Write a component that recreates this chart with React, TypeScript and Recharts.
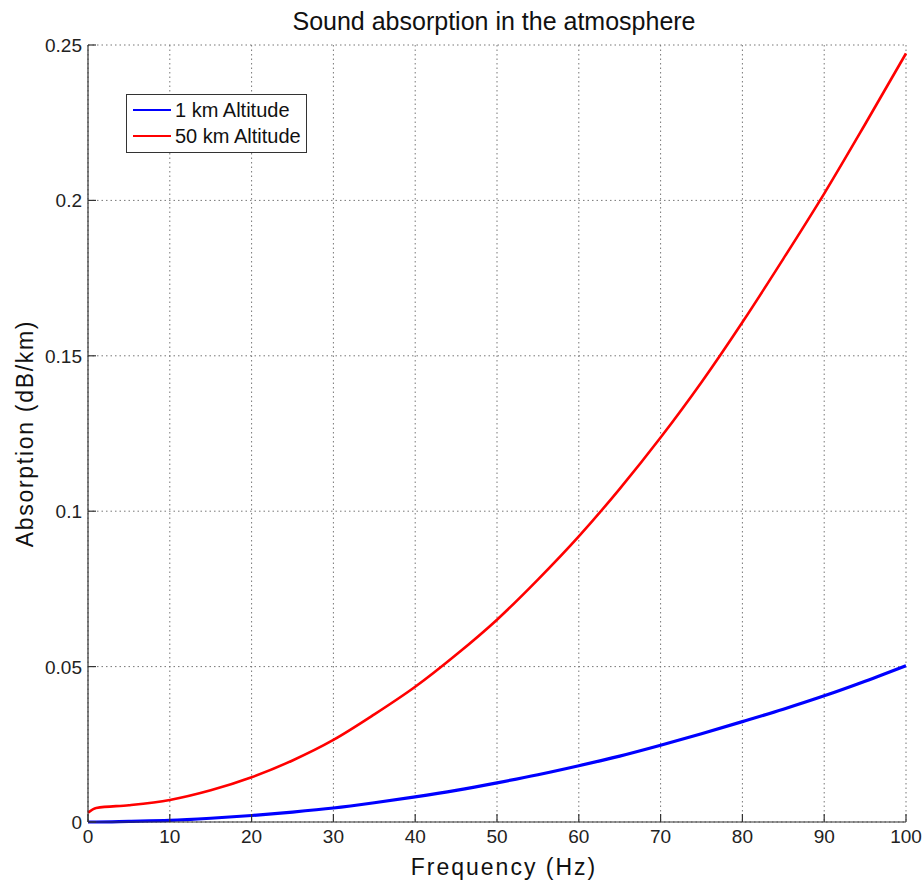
import { LineChart, Line, XAxis, YAxis, CartesianGrid } from "recharts";

// Frequency (Hz) and absorption (dB/km)
const FREQ = [0, 1, 5, 10, 15, 20, 25, 30, 35, 40, 45, 50, 55, 60, 65, 70, 75, 80, 85, 90, 95, 100];
const ALT_1KM = [
  0, 0, 0.0002, 0.0005, 0.0012, 0.0021, 0.0032, 0.0045, 0.0062, 0.0081, 0.0102,
  0.0126, 0.0152, 0.0181, 0.0212, 0.0247, 0.0284, 0.0323, 0.0363, 0.0406, 0.0453, 0.0503,
];
const ALT_50KM = [
  0.003, 0.0045, 0.0054, 0.0071, 0.0102, 0.0144, 0.0198, 0.0264, 0.0346, 0.0435, 0.0538,
  0.0651, 0.078, 0.0919, 0.1072, 0.1237, 0.1415, 0.1608, 0.1812, 0.2022, 0.2245, 0.2473,
];
const X_TICKS = [0, 10, 20, 30, 40, 50, 60, 70, 80, 90, 100];
const Y_TICKS = [0, 0.05, 0.1, 0.15, 0.2, 0.25];

const TITLE = "Sound absorption in the atmosphere";

const SERIES = [
  { key: "alt1", name: "1 km Altitude", color: "#0000ff", width: 3.2 },
  { key: "alt50", name: "50 km Altitude", color: "#ff0000", width: 2.6 },
];

const data = FREQ.map((f, i) => ({ f, alt1: ALT_1KM[i], alt50: ALT_50KM[i] }));

const W = 924;
const H = 882;
// plot box in page pixels
const PLOT = { left: 88, top: 45, right: 906, bottom: 822 };
const TICK_LEN = 8;
const AXIS = "#333";
const FONT = "'Liberation Sans', Arial, Helvetica, sans-serif";

const BottomTick = (props: any) => {
  const c = props.payload.coordinate;
  return (
    <g>
      <line x1={c} x2={c} y1={PLOT.bottom} y2={PLOT.bottom - TICK_LEN} stroke={AXIS} strokeWidth={1.2} />
      <text x={c} y={PLOT.bottom + 21} textAnchor="middle" fontSize={19} fill="#222" fontFamily={FONT}>
        {props.payload.value}
      </text>
    </g>
  );
};

const TopTick = (props: any) => {
  const c = props.payload.coordinate;
  return <line x1={c} x2={c} y1={PLOT.top} y2={PLOT.top + TICK_LEN} stroke={AXIS} strokeWidth={1.2} />;
};

const LeftTick = (props: any) => {
  const c = props.payload.coordinate;
  return (
    <g>
      <line x1={PLOT.left} x2={PLOT.left + TICK_LEN} y1={c} y2={c} stroke={AXIS} strokeWidth={1.2} />
      <text x={PLOT.left - 6} y={c + 7} textAnchor="end" fontSize={19} fill="#222" fontFamily={FONT}>
        {String(props.payload.value)}
      </text>
    </g>
  );
};

const RightTick = (props: any) => {
  const c = props.payload.coordinate;
  return <line x1={PLOT.right} x2={PLOT.right - TICK_LEN} y1={c} y2={c} stroke={AXIS} strokeWidth={1.2} />;
};

export default function App() {
  return (
    <div style={{ position: "absolute", left: 0, top: 0, width: W, height: H, background: "#fff" }}>
      <LineChart
        width={W}
        height={H}
        data={data}
        margin={{ top: PLOT.top, right: W - PLOT.right, bottom: 0, left: 0 }}
      >
        <CartesianGrid stroke="#777" strokeDasharray="1.5 3" strokeWidth={1} />
        <XAxis
          dataKey="f"
          type="number"
          domain={[0, 100]}
          ticks={X_TICKS}
          interval={0}
          height={H - PLOT.bottom}
          axisLine={{ stroke: AXIS, strokeWidth: 1.2 }}
          tickLine={false}
          tick={<BottomTick />}
          label={{
            value: "Frequency (Hz)",
            position: "insideBottom",
            offset: 7,
            dx: 7,
            style: { fontSize: 23, letterSpacing: 2, fontFamily: FONT, fill: "#111" },
          }}
        />
        <XAxis
          xAxisId="top"
          orientation="top"
          dataKey="f"
          type="number"
          domain={[0, 100]}
          ticks={X_TICKS}
          interval={0}
          height={0}
          axisLine={{ stroke: AXIS, strokeWidth: 1.2 }}
          tickLine={false}
          tick={<TopTick />}
        />
        <YAxis
          type="number"
          domain={[0, 0.25]}
          ticks={Y_TICKS}
          interval={0}
          width={PLOT.left}
          axisLine={{ stroke: AXIS, strokeWidth: 1.2 }}
          tickLine={false}
          tick={<LeftTick />}
          label={{
            value: "Absorption (dB/km)",
            angle: -90,
            position: "insideLeft",
            offset: 25,
            style: { textAnchor: "middle", fontSize: 23, letterSpacing: 1.7, fontFamily: FONT, fill: "#111" },
          }}
        />
        <YAxis
          yAxisId="right"
          orientation="right"
          type="number"
          domain={[0, 0.25]}
          ticks={Y_TICKS}
          interval={0}
          width={0}
          axisLine={{ stroke: AXIS, strokeWidth: 1.2 }}
          tickLine={false}
          tick={<RightTick />}
        />
        {SERIES.map((s) => (
          <Line
            key={s.key}
            type="monotone"
            dataKey={s.key}
            name={s.name}
            stroke={s.color}
            strokeWidth={s.width}
            dot={false}
            isAnimationActive={false}
          />
        ))}
      </LineChart>

      <div
        style={{
          position: "absolute",
          left: 494,
          top: 9,
          transform: "translateX(-50%)",
          whiteSpace: "nowrap",
          fontFamily: FONT,
          fontSize: 25,
          lineHeight: "25px",
          color: "#111",
        }}
      >
        {TITLE}
      </div>

      {/* legend box, MATLAB style, upper left inside the axes */}
      <div
        style={{
          position: "absolute",
          left: 126,
          top: 94,
          width: 179,
          height: 57,
          border: `1px solid ${AXIS}`,
          background: "#fff",
          fontFamily: FONT,
          fontSize: 20,
          color: "#111",
        }}
      >
        {SERIES.map((s, i) => (
          <div
            key={s.key}
            style={{ position: "absolute", left: 6, top: 3 + i * 26, height: 24, display: "flex", alignItems: "center" }}
          >
            <span style={{ display: "inline-block", width: 38, height: 2.5, background: s.color, marginRight: 4 }} />
            <span>{s.name}</span>
          </div>
        ))}
      </div>
    </div>
  );
}
